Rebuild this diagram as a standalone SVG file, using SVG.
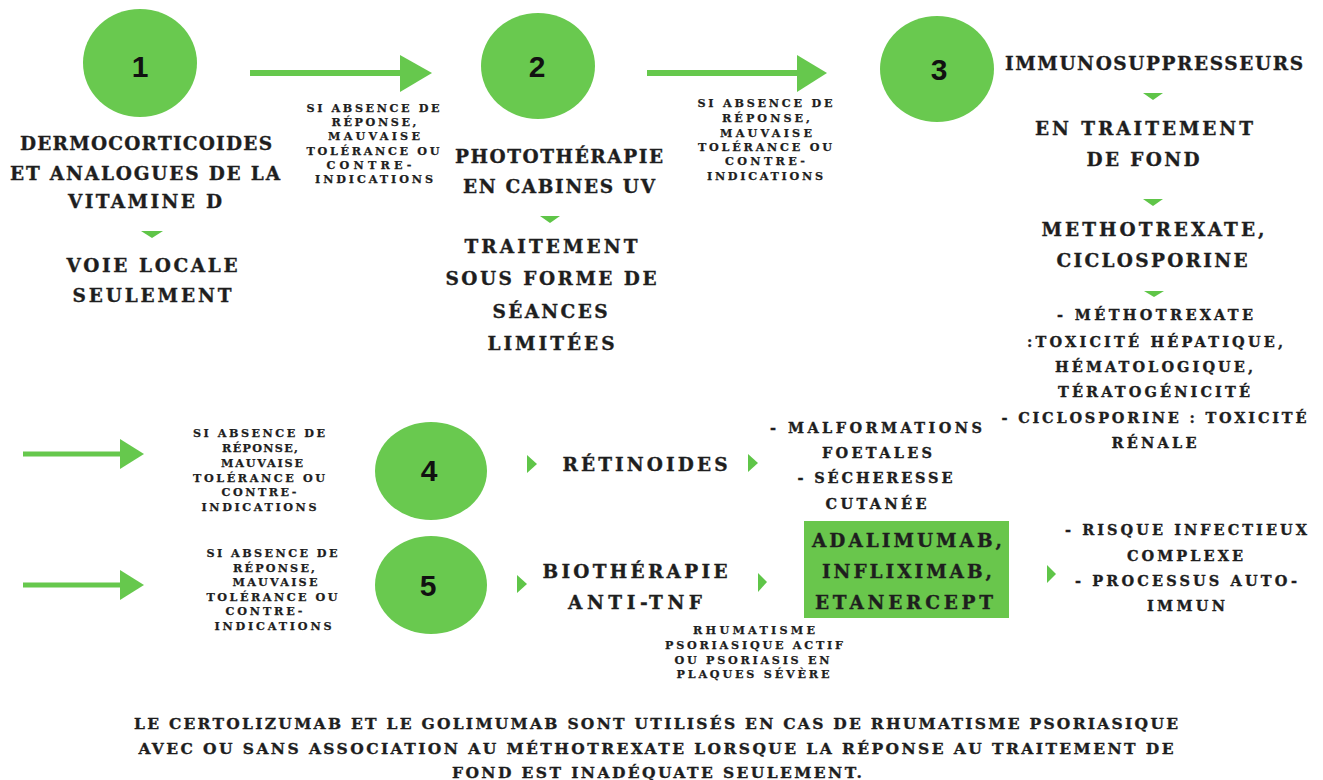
<svg xmlns="http://www.w3.org/2000/svg" width="1323" height="780" viewBox="0 0 1323 780">
<style>
.t{font-family:"DejaVu Serif","Liberation Serif",serif;font-weight:bold;fill:#1e1e1e;stroke:#1e1e1e;stroke-width:0.35;text-anchor:middle}
.big{font-size:18.5px}
.med{font-size:14.5px}
.sm{font-size:11.2px;stroke-width:0.25}
.bot{font-size:15.5px}
.num{font-family:"Liberation Sans",Arial,sans-serif;font-weight:bold;font-size:30px;fill:#111;text-anchor:middle}
.circ{fill:#69c94f}
.arr{stroke:#66c84d;stroke-width:6;fill:none}
.arr2{stroke:#66c84d;stroke-width:5;fill:none}
.head{fill:#66c84d}
.tri{fill:#5fc548}
</style>
<rect width="1323" height="780" fill="#ffffff"/>
<g id="connectors">
  <line class="arr" x1="250" y1="73" x2="402" y2="73"/>
  <polygon class="head" points="400,55 432,73 400,92"/>
  <line class="arr" x1="647" y1="73" x2="799" y2="73"/>
  <polygon class="head" points="797,55 827,73 797,92"/>
  <line class="arr2" x1="23" y1="454" x2="122" y2="454"/>
  <polygon class="head" points="120,439 144,454 120,469"/>
  <line class="arr2" x1="23" y1="585" x2="122" y2="585"/>
  <polygon class="head" points="120,570 144,585 120,600"/>
  <polygon class="tri" points="141,231 163,231 152,238"/>
  <polygon class="tri" points="540,216 560,216 550,223"/>
  <polygon class="tri" points="1143,93 1163,93 1153,100"/>
  <polygon class="tri" points="1143,199 1163,199 1153,206"/>
  <polygon class="tri" points="1144,291 1164,291 1154,297"/>
  <polygon class="tri" points="527,455 537,464 527,473"/>
  <polygon class="tri" points="748,454 758,463 748,472"/>
  <polygon class="tri" points="517,575 527,584 517,593"/>
  <polygon class="tri" points="758,573 767,582 758,592"/>
  <polygon class="tri" points="1047,565 1056,574 1047,583"/>
</g>
<g id="label1">
  <text class="t sm" x="373" y="112" textLength="133">SI ABSENCE DE</text>
  <text class="t sm" x="374" y="126" textLength="85">RÉPONSE,</text>
  <text class="t sm" x="374" y="140" textLength="92">MAUVAISE</text>
  <text class="t sm" x="373" y="155" textLength="133">TOLÉRANCE OU</text>
  <text class="t sm" x="369" y="169" textLength="85">CONTRE-</text>
  <text class="t sm" x="374" y="183" textLength="118">INDICATIONS</text>
</g>
<g id="label2">
  <text class="t sm" x="765" y="107" textLength="135">SI ABSENCE DE</text>
  <text class="t sm" x="766" y="122" textLength="88">RÉPONSE,</text>
  <text class="t sm" x="766" y="137" textLength="92">MAUVAISE</text>
  <text class="t sm" x="765" y="151" textLength="134">TOLÉRANCE OU</text>
  <text class="t sm" x="765" y="165" textLength="80">CONTRE-</text>
  <text class="t sm" x="765" y="180" textLength="116">INDICATIONS</text>
</g>
<g id="label4">
  <text class="t sm" x="259" y="437" textLength="132">SI ABSENCE DE</text>
  <text class="t sm" x="260" y="452" textLength="76">RÉPONSE,</text>
  <text class="t sm" x="262" y="467" textLength="82">MAUVAISE</text>
  <text class="t sm" x="259" y="482" textLength="132">TOLÉRANCE OU</text>
  <text class="t sm" x="259" y="496" textLength="75">CONTRE-</text>
  <text class="t sm" x="259" y="511" textLength="115">INDICATIONS</text>
</g>
<g id="label5">
  <text class="t sm" x="272" y="557" textLength="131">SI ABSENCE DE</text>
  <text class="t sm" x="274" y="572" textLength="82">RÉPONSE,</text>
  <text class="t sm" x="275" y="586" textLength="85">MAUVAISE</text>
  <text class="t sm" x="272" y="601" textLength="131">TOLÉRANCE OU</text>
  <text class="t sm" x="264" y="615" textLength="77">CONTRE-</text>
  <text class="t sm" x="273" y="630" textLength="117">INDICATIONS</text>
</g>
<g id="node1">
  <ellipse class="circ" cx="140" cy="63" rx="57" ry="54"/>
  <text class="num" x="140" y="77">1</text>
  <text class="t big" x="146" y="150" textLength="252">DERMOCORTICOIDES</text>
  <text class="t big" x="145" y="180" textLength="270">ET ANALOGUES DE LA</text>
  <text class="t big" x="145" y="208" textLength="154">VITAMINE D</text>
  <text class="t big" x="152" y="272" textLength="171">VOIE LOCALE</text>
  <text class="t big" x="152" y="302" textLength="159">SEULEMENT</text>
</g>
<g id="node2">
  <ellipse class="circ" cx="538" cy="66" rx="57" ry="53"/>
  <text class="num" x="537" y="77">2</text>
  <text class="t big" x="559" y="163" textLength="208">PHOTOTHÉRAPIE</text>
  <text class="t big" x="559" y="193" textLength="192">EN CABINES UV</text>
  <text class="t big" x="551" y="253" textLength="173">TRAITEMENT</text>
  <text class="t big" x="551" y="285" textLength="211">SOUS FORME DE</text>
  <text class="t big" x="550" y="318" textLength="115">SÉANCES</text>
  <text class="t big" x="551" y="350" textLength="127">LIMITÉES</text>
</g>
<g id="node3">
  <ellipse class="circ" cx="937" cy="69" rx="57" ry="53"/>
  <text class="num" x="939" y="80">3</text>
  <text class="t big" x="1154" y="70" textLength="298">IMMUNOSUPPRESSEURS</text>
  <text class="t big" x="1144" y="135" textLength="218">EN TRAITEMENT</text>
  <text class="t big" x="1143" y="166" textLength="113">DE FOND</text>
  <text class="t big" x="1153" y="236" textLength="223">METHOTREXATE,</text>
  <text class="t big" x="1152" y="267" textLength="191">CICLOSPORINE</text>
  <text class="t med" x="1155" y="320" textLength="196">- MÉTHOTREXATE</text>
  <text class="t med" x="1155" y="347" textLength="256">:TOXICITÉ HÉPATIQUE,</text>
  <text class="t med" x="1154" y="372" textLength="198">HÉMATOLOGIQUE,</text>
  <text class="t med" x="1154" y="397" textLength="192">TÉRATOGÉNICITÉ</text>
  <text class="t med" x="1154" y="423" textLength="305">- CICLOSPORINE : TOXICITÉ</text>
  <text class="t med" x="1154" y="448" textLength="85">RÉNALE</text>
</g>
<g id="node4">
  <ellipse class="circ" cx="431" cy="471" rx="56" ry="49"/>
  <text class="num" x="429" y="481">4</text>
  <text class="t big" x="645" y="471" textLength="165">RÉTINOIDES</text>
  <text class="t med" x="876" y="433" textLength="212">- MALFORMATIONS</text>
  <text class="t med" x="877" y="458" textLength="110">FOETALES</text>
  <text class="t med" x="875" y="483" textLength="155">- SÉCHERESSE</text>
  <text class="t med" x="876" y="509" textLength="101">CUTANÉE</text>
</g>
<g id="node5">
  <ellipse class="circ" cx="431" cy="585" rx="56" ry="49"/>
  <text class="num" x="428" y="596">5</text>
  <text class="t big" x="635" y="578" textLength="185">BIOTHÉRAPIE</text>
  <text class="t big" x="635" y="609" textLength="134">ANTI-TNF</text>
  <text class="t sm" x="754" y="634" textLength="122">RHUMATISME</text>
  <text class="t sm" x="754" y="649" textLength="178">PSORIASIQUE ACTIF</text>
  <text class="t sm" x="752" y="664" textLength="155">OU PSORIASIS EN</text>
  <text class="t sm" x="753" y="678" textLength="153">PLAQUES SÉVÈRE</text>
</g>
<g id="antitnf-box">
  <rect x="804" y="521" width="205" height="97" fill="#69c64c"/>
  <text class="t big" x="907" y="547" textLength="190">ADALIMUMAB,</text>
  <text class="t big" x="907" y="578" textLength="170">INFLIXIMAB,</text>
  <text class="t big" x="904" y="609" textLength="178">ETANERCEPT</text>
</g>
<g id="risks">
  <text class="t med" x="1186" y="535" textLength="242">- RISQUE INFECTIEUX</text>
  <text class="t med" x="1185" y="561" textLength="116">COMPLEXE</text>
  <text class="t med" x="1186" y="586" textLength="222">- PROCESSUS AUTO-</text>
  <text class="t med" x="1186" y="611" textLength="78">IMMUN</text>
</g>
<g id="note">
  <text class="t bot" x="656" y="729" textLength="1044">LE CERTOLIZUMAB ET LE GOLIMUMAB SONT UTILISÉS EN CAS DE RHUMATISME PSORIASIQUE</text>
  <text class="t bot" x="656" y="754" textLength="1035">AVEC OU SANS ASSOCIATION AU MÉTHOTREXATE LORSQUE LA RÉPONSE AU TRAITEMENT DE</text>
  <text class="t bot" x="657" y="778" textLength="410">FOND EST INADÉQUATE SEULEMENT.</text>
</g>
</svg>
